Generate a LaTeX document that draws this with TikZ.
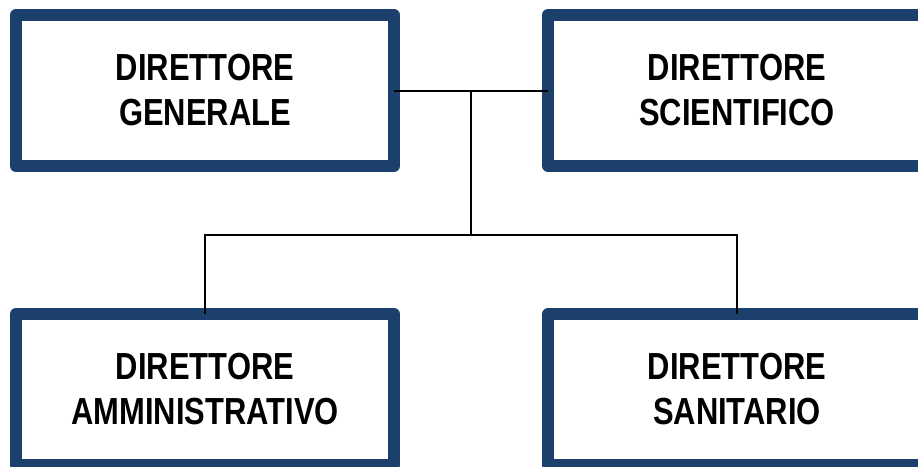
\documentclass[tikz,border=0pt]{standalone}
\usepackage{fontspec}
\usepackage{tikz}
\newfontfamily\boxfont[FakeStretch=0.82]{Liberation Sans}
\definecolor{boxblue}{RGB}{27,64,108}

\begin{document}
\begin{tikzpicture}[x=1pt, y=-1pt,
	ruolo/.style={draw=boxblue, line width=12pt, line join=round, rectangle, minimum width=378pt, minimum height=151pt, inner sep=0pt, outer sep=0pt, align=center, font=\boxfont\bfseries\fontsize{37.7}{45}\selectfont},
	link/.style={draw=black, line width=2pt}]
						\useasboundingbox (0,0) rectangle (918,466);
						\node[ruolo] (gen) at (205,90.5) {DIRETTORE\\GENERALE};
						\node[ruolo] (sci) at (737,90.5) {DIRETTORE\\SCIENTIFICO};
						\node[ruolo] (amm) at (205,389.5) {DIRETTORE\\AMMINISTRATIVO};
						\node[ruolo] (san) at (737,389.5) {DIRETTORE\\SANITARIO};
						\coordinate (split) at (471,235);
						\draw[link] (gen.east) -- (sci.west);
						\draw[link] (split |- gen.east) -- (split);
						\draw[link] (amm.north) |- (split) -| (san.north);
						\end{tikzpicture}
\end{document}
